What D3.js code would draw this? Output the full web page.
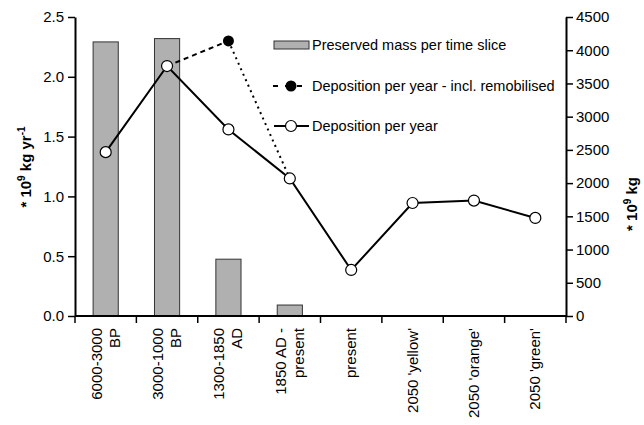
<!DOCTYPE html>
<html lang="en">
<head>
    <meta charset="UTF-8">
    <title>Deposition and preserved mass</title>
    <style>
        body { margin: 0; background: #fff; }
        text { font-family: "Liberation Sans", Arial, sans-serif; fill: #000; }
        .tick-label { font-size: 15px; }
        .legend-label { font-size: 14.5px; }
        .axis-title { font-size: 15px; font-weight: bold; }
    </style>
</head>
<body>
    <svg id="chart" width="644" height="425"></svg>
    <script src="https://d3js.org/d3.v7.min.js"></script>
    <script>
        // Categories (multi-line labels split on "|")
        var categories = ["6000-3000|BP", "3000-1000|BP", "1300-1850|AD", "1850 AD -|present",
                          "present", "2050 'yellow'", "2050 'orange'", "2050 'green'"];

        // Preserved mass per time slice (* 10^9 kg, right axis)
        var preservedMass = [4125, 4175, 855, 165, null, null, null, null];

        // Deposition per year (* 10^9 kg/yr, left axis)
        var deposition = [1.37, 2.09, 1.56, 1.15, 0.385, 0.945, 0.965, 0.82];

        // Deposition per year incl. remobilised
        var depositionRemob = [null, 2.09, 2.30, 1.15, null, null, null, null];

        var leftTicks = [0, 0.5, 1.0, 1.5, 2.0, 2.5];
        var rightTicks = [0, 500, 1000, 1500, 2000, 2500, 3000, 3500, 4000, 4500];

        var mLeft = 75, mRight = 566, mTop = 17, mBottom = 316;

        var svg = d3.select("#chart");

        var x = d3.scaleBand()
                  .domain(categories)
                  .range([mLeft, mRight])
                  .padding(0);

        var yL = d3.scaleLinear().domain([0, 2.5]).range([mBottom, mTop]);
        var yR = d3.scaleLinear().domain([0, 4500]).range([mBottom, mTop]);

        var barW = x.bandwidth() * 0.41;

        // Bars
        svg.selectAll(".bar")
           .data(categories.map(function(c, i) { return { c: c, v: preservedMass[i] }; })
                           .filter(function(d) { return d.v != null; }))
           .enter().append("rect")
           .attr("class", "bar")
           .attr("x", function(d) { return x(d.c) + x.bandwidth() / 2 - barW / 2; })
           .attr("width", barW)
           .attr("y", function(d) { return yR(d.v); })
           .attr("height", function(d) { return mBottom - yR(d.v); })
           .attr("fill", "#b0b0b0")
           .attr("stroke", "#333")
           .attr("stroke-width", 1);

        function cx(i) { return x(categories[i]) + x.bandwidth() / 2; }

        // Remobilised dashed/dotted segments
        var remobPts = depositionRemob.map(function(v, i) { return { i: i, v: v }; })
                                      .filter(function(d) { return d.v != null; });
        var dashes = ["5,4", "2,4"];
        d3.pairs(remobPts).forEach(function(p, k) {
            svg.append("line")
               .attr("x1", cx(p[0].i)).attr("y1", yL(p[0].v))
               .attr("x2", cx(p[1].i)).attr("y2", yL(p[1].v))
               .attr("stroke", "#000")
               .attr("stroke-width", 2)
               .attr("stroke-dasharray", dashes[k % 2]);
        });

        // Main deposition line
        var line = d3.line()
                     .x(function(d, i) { return cx(i); })
                     .y(function(d) { return yL(d); });

        svg.append("path")
           .datum(deposition)
           .attr("d", line)
           .attr("fill", "none")
           .attr("stroke", "#000")
           .attr("stroke-width", 2);

        // Remobilised markers (only the point that differs)
        svg.selectAll(".remob-dot")
           .data(remobPts.filter(function(d) { return d.v !== deposition[d.i]; }))
           .enter().append("circle")
           .attr("cx", function(d) { return cx(d.i); })
           .attr("cy", function(d) { return yL(d.v); })
           .attr("r", 5.5)
           .attr("fill", "#000");

        svg.selectAll(".dep-dot")
           .data(deposition)
           .enter().append("circle")
           .attr("cx", function(d, i) { return cx(i); })
           .attr("cy", function(d) { return yL(d); })
           .attr("r", 5.5)
           .attr("fill", "#fff")
           .attr("stroke", "#000")
           .attr("stroke-width", 1.2);

        // Left axis
        var gL = svg.append("g").attr("transform", "translate(" + mLeft + ",0)")
                    .call(d3.axisLeft(yL).tickValues(leftTicks).tickFormat(d3.format(".1f"))
                          .tickSize(7).tickSizeOuter(0).tickPadding(4));
        // Right axis
        var gR = svg.append("g").attr("transform", "translate(" + mRight + ",0)")
                    .call(d3.axisRight(yR).tickValues(rightTicks).tickFormat(d3.format("d"))
                          .tickSize(7).tickSizeOuter(0).tickPadding(3));

        [gL, gR].forEach(function(g) {
            g.select(".domain").attr("stroke", "#000").attr("stroke-width", 2);
            g.selectAll(".tick line").attr("stroke", "#000").attr("stroke-width", 1.5);
            g.selectAll(".tick text").attr("class", "tick-label")
             .attr("font-family", null).attr("font-size", null).attr("fill", "#000");
        });
        gL.attr("font-family", null).attr("font-size", null);
        gR.attr("font-family", null).attr("font-size", null);

        // Bottom axis
        var gB = svg.append("g").attr("transform", "translate(0," + mBottom + ")");
        gB.append("line").attr("x1", mLeft).attr("x2", mRight)
          .attr("stroke", "#000").attr("stroke-width", 2);
        gB.selectAll(".btick")
          .data(categories.concat([null]))
          .enter().append("line")
          .attr("x1", function(d, i) { return mLeft + i * x.bandwidth(); })
          .attr("x2", function(d, i) { return mLeft + i * x.bandwidth(); })
          .attr("y1", 0).attr("y2", 7)
          .attr("stroke", "#000").attr("stroke-width", 1.5);

        var labels = gB.selectAll(".clabel")
          .data(categories)
          .enter().append("text")
          .attr("class", "tick-label")
          .attr("text-anchor", "end")
          .attr("transform", function(d) {
              return "translate(" + (x(d) + x.bandwidth() / 2) + ",12) rotate(-90)";
          });
        labels.each(function(d) {
            var parts = d.split("|");
            var t = d3.select(this);
            var lh = 18;
            var y0 = -(parts.length - 1) * lh / 2 + 5;
            parts.forEach(function(p, k) {
                t.append("tspan").attr("x", 0).attr("y", y0 + k * lh).text(p);
            });
        });

        // Axis titles
        var tL = svg.append("text").attr("class", "axis-title")
                    .attr("text-anchor", "middle")
                    .attr("transform", "translate(31,167) rotate(-90)");
        tL.append("tspan").text("* 10");
        tL.append("tspan").attr("dy", -6).attr("font-size", "10px").text("9");
        tL.append("tspan").attr("dy", 6).text(" kg yr");
        tL.append("tspan").attr("dy", -6).attr("font-size", "10px").text("-1");

        var tR = svg.append("text").attr("class", "axis-title")
                    .attr("text-anchor", "middle")
                    .attr("transform", "translate(637,204) rotate(-90)");
        tR.append("tspan").text("* 10");
        tR.append("tspan").attr("dy", -6).attr("font-size", "10px").text("9");
        tR.append("tspan").attr("dy", 6).text(" kg");

        // Legend
        var lg = svg.append("g");
        lg.append("rect").attr("x", 274).attr("y", 41).attr("width", 35).attr("height", 8)
          .attr("fill", "#b0b0b0").attr("stroke", "#333").attr("stroke-width", 1);
        lg.append("text").attr("class", "legend-label").attr("x", 312).attr("y", 50)
          .text("Preserved mass per time slice");

        lg.append("line").attr("x1", 273).attr("x2", 309).attr("y1", 86).attr("y2", 86)
          .attr("stroke", "#000").attr("stroke-width", 2).attr("stroke-dasharray", "5,7");
        lg.append("circle").attr("cx", 291).attr("cy", 86).attr("r", 5.5).attr("fill", "#000");
        lg.append("text").attr("class", "legend-label").attr("x", 312).attr("y", 91)
          .text("Deposition per year - incl. remobilised");

        lg.append("line").attr("x1", 274).attr("x2", 309).attr("y1", 126).attr("y2", 126)
          .attr("stroke", "#000").attr("stroke-width", 2);
        lg.append("circle").attr("cx", 291).attr("cy", 126).attr("r", 5.5)
          .attr("fill", "#fff").attr("stroke", "#000").attr("stroke-width", 1.2);
        lg.append("text").attr("class", "legend-label").attr("x", 312).attr("y", 131)
          .text("Deposition per year");
    </script>
</body>
</html>
